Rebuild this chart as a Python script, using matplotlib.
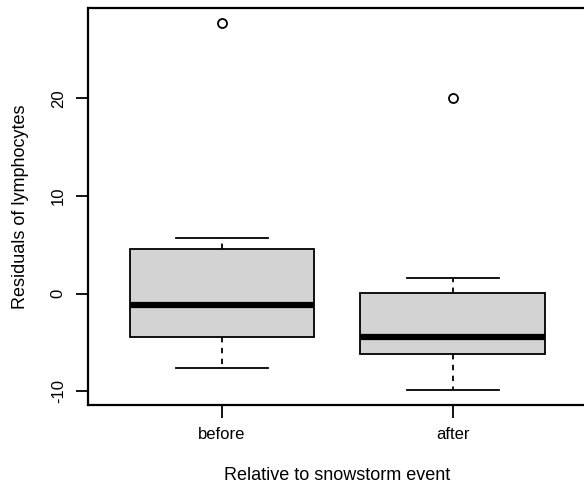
import matplotlib
matplotlib.use("Agg")
import matplotlib.pyplot as plt

plt.rcParams['font.family'] = ['Liberation Sans', 'DejaVu Sans']

groups = ["before", "after"]
q1 = [-4.45, -6.15]
medians = [-1.13, -4.48]
q3 = [4.57, 0.1]
whisker_low = [-7.63, -9.89]
whisker_high = [5.67, 1.6]
outliers = [[27.75], [20.0]]

yticks = [-10, 0, 10, 20]

fig = plt.figure(figsize=(5.84, 4.86), dpi=100)
ax = fig.add_axes([88 / 584, 1 - 405 / 486, (586.7 - 88) / 584, (405 - 8) / 486])

stats = []
for i, g in enumerate(groups):
    stats.append(dict(label=g, q1=q1[i], med=medians[i], q3=q3[i],
                      whislo=whisker_low[i], whishi=whisker_high[i],
                      fliers=outliers[i]))

positions = list(range(1, len(groups) + 1))
ax.bxp(stats, positions=positions, widths=0.8, patch_artist=True,
       boxprops=dict(facecolor="#d3d3d3", edgecolor="black", linewidth=1.3),
       medianprops=dict(color="black", linewidth=4.5, solid_capstyle="butt"),
       whiskerprops=dict(color="black", linewidth=1.3, linestyle=(0, (3, 3))),
       capprops=dict(color="black", linewidth=1.3),
       capwidths=0.4,
       flierprops=dict(marker="o", markerfacecolor="none", markeredgecolor="black",
                       markersize=6.5, markeredgewidth=1.3))

lo = min(whisker_low + [v for o in outliers for v in o])
hi = max(whisker_high + [v for o in outliers for v in o])
pad = 0.04 * (hi - lo)
ax.set_ylim(lo - pad, hi + pad)
ax.set_xlim(0.5 - 0.08, len(groups) + 0.5 + 0.08)

ax.set_yticks(yticks)
ax.set_yticklabels([str(t) for t in yticks], rotation=90, va="center")
ax.set_xticks(positions)
ax.set_xticklabels(groups)
ax.tick_params(axis="both", direction="out", length=9, width=1.3, labelsize=12,
               pad=7)
for s in ax.spines.values():
    s.set_linewidth(1.6)

ax.set_xlabel("Relative to snowstorm event", fontsize=13, labelpad=18)
ax.set_ylabel("Residuals of lymphocytes", fontsize=13, labelpad=16)

fig.savefig("out.png", dpi=100)
